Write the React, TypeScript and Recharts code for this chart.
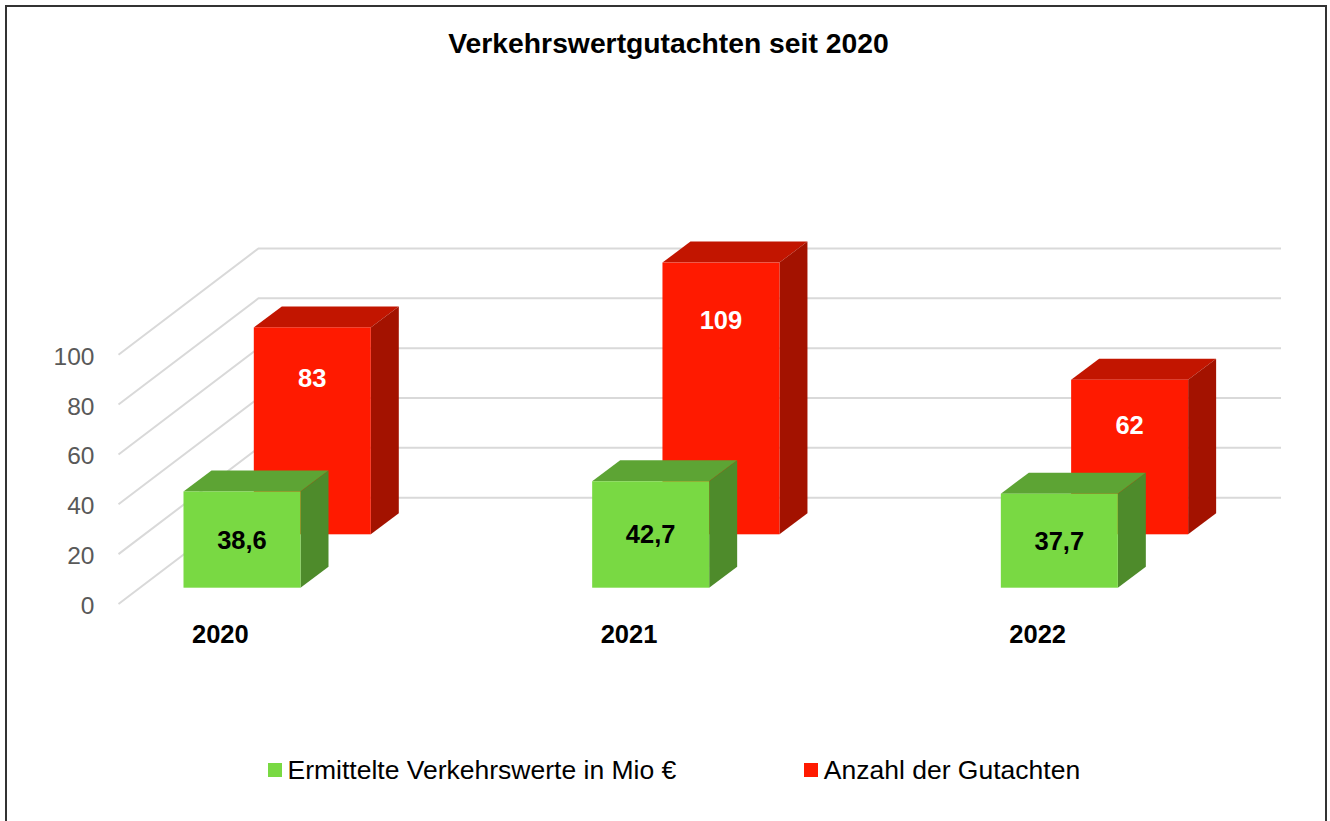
import React from "react";
import { BarChart, Bar, XAxis, YAxis, CartesianGrid, Legend } from "recharts";

const YEARS = ["2020", "2021", "2022"];
const WERTE_MIO = [38.6, 42.7, 37.7];
const ANZAHL_GUTACHTEN = [83, 109, 62];
const Y_TICKS = [0, 20, 40, 60, 80, 100];
const TITLE = "Verkehrswertgutachten seit 2020";
const SERIES_ORDER = ["werte", "anzahl"];
const SERIES_NAMES: Record<string, string> = {
  werte: "Ermittelte Verkehrswerte in Mio €",
  anzahl: "Anzahl der Gutachten",
};

const data = YEARS.map((year, i) => ({
  year,
  werte: WERTE_MIO[i],
  anzahl: ANZAHL_GUTACHTEN[i],
}));

// oblique 3d look of the excel chart
const WALL_LEFT = 118.5;
const WALL_DX = 140;
const WALL_DY = 106.3;
const WALL_RIGHT = 1281;
const BOX_DX = 28;
const BOX_DY = 21;
const FONT = "'Liberation Sans', Arial, sans-serif";

const GREEN = { dx: 21.5, dy: 16.3, front: "#79d943", top: "#5da434", side: "#4e8b2b", text: "#000", key: "werte" };
const RED = { dx: 91.8, dy: 69.7, front: "#ff1a00", top: "#c21500", side: "#a31200", text: "#fff", key: "anzahl" };

const fmt = (v: number) => String(v).replace(".", ",");

function makeBox(row: typeof GREEN, isBack: boolean) {
  return (props: any) => {
    const { x, y, width, height, payload } = props;
    const fx = x + row.dx;
    const fy = y - row.dy;
    const w = width;
    const h = height;
    const labelY = isBack ? fy + 30 + 0.1 * h : fy + h / 2;
    return (
      <g>
        <polygon
          points={`${fx},${fy} ${fx + w},${fy} ${fx + w + BOX_DX},${fy - BOX_DY} ${fx + BOX_DX},${fy - BOX_DY}`}
          fill={row.top}
        />
        <polygon
          points={`${fx + w},${fy} ${fx + w + BOX_DX},${fy - BOX_DY} ${fx + w + BOX_DX},${fy - BOX_DY + h} ${fx + w},${fy + h}`}
          fill={row.side}
        />
        <rect x={fx} y={fy} width={w} height={h} fill={row.front} />
        <text
          x={fx + w / 2}
          y={labelY}
          textAnchor="middle"
          dominantBaseline="central"
          fontFamily={FONT}
          fontWeight="bold"
          fontSize={25.5}
          fill={row.text}
        >
          {fmt(payload[row.key])}
        </text>
      </g>
    );
  };
}

const wallLine = (props: any) => {
  const y = props.y1;
  // the grid also hands over the top edge of the plot, which is not a tick
  if (Math.abs(y - props.y) < 0.5) return <g key={`wall-${props.index}`} />;
  return (
    <path
      key={`wall-${props.index}`}
      d={`M${WALL_LEFT},${y} L${WALL_LEFT + WALL_DX},${y - WALL_DY} L${WALL_RIGHT},${y - WALL_DY}`}
      fill="none"
      stroke="#d9d9d9"
      strokeWidth={2}
    />
  );
};

const YTick = (props: any) => (
  <text
    x={94.5}
    y={props.y + 1.5}
    textAnchor="end"
    dominantBaseline="central"
    fontFamily={FONT}
    fontSize={24.5}
    fill="#595959"
  >
    {props.payload.value}
  </text>
);

const XTick = (props: any) => (
  <text
    x={props.x}
    y={props.y + 39.3}
    textAnchor="middle"
    fontFamily={FONT}
    fontWeight="bold"
    fontSize={25.5}
    fill="#000"
  >
    {props.payload.value}
  </text>
);

const LegendContent = (props: any) => {
  const items = [...(props.payload || [])].sort(
    (a: any, b: any) => SERIES_ORDER.indexOf(a.dataKey) - SERIES_ORDER.indexOf(b.dataKey)
  );
  return (
    <div style={{ display: "flex", alignItems: "center", fontFamily: FONT, fontSize: 26.5, lineHeight: "30px", color: "#000" }}>
      {items.map((it: any, i: number) => (
        <div key={it.dataKey} style={{ display: "flex", alignItems: "center", marginLeft: i === 0 ? 0 : 128 }}>
          <span style={{ display: "inline-block", width: 13.5, height: 14, background: it.color, marginRight: 6 }} />
          <span>{it.value}</span>
        </div>
      ))}
    </div>
  );
};

export default function App() {
  return (
    <div style={{ position: "absolute", left: 0, top: 0, width: 1330, height: 821, overflow: "hidden", background: "#fff", fontFamily: FONT }}>
      <div
        style={{
          position: "absolute",
          left: 5,
          top: 5,
          width: 1318,
          height: 840,
          border: "2px solid #333",
        }}
      />
      <div
        style={{
          position: "absolute",
          left: 0,
          top: 26.6,
          width: 1337,
          textAlign: "center",
          fontSize: 28.3,
          lineHeight: "32px",
          fontWeight: "bold",
          color: "#000",
        }}
      >
        {TITLE}
      </div>
      <div style={{ position: "absolute", left: 0, top: 0 }}>
        <BarChart
          width={1330}
          height={821}
          data={data}
          margin={{ top: 255, right: 88, bottom: 187, left: 0 }}
          barSize={117}
          barGap={-117}
        >
          <CartesianGrid horizontal={wallLine} vertical={false} />
          <XAxis
            dataKey="year"
            axisLine={false}
            tickLine={false}
            tickSize={0}
            tickMargin={0}
            height={30}
            interval={0}
            tick={<XTick />}
          />
          <YAxis
            domain={[0, 140]}
            ticks={Y_TICKS}
            width={16}
            axisLine={false}
            tickLine={false}
            tick={<YTick />}
          />
          <Legend
            layout="horizontal"
            verticalAlign="middle"
            align="center"
            wrapperStyle={{ left: 268, top: 755, width: "auto", height: "auto" }}
            content={<LegendContent />}
          />
          <Bar
            dataKey="anzahl"
            name={SERIES_NAMES.anzahl}
            fill={RED.front}
            isAnimationActive={false}
            shape={makeBox(RED, true)}
          />
          <Bar
            dataKey="werte"
            name={SERIES_NAMES.werte}
            fill={GREEN.front}
            isAnimationActive={false}
            shape={makeBox(GREEN, false)}
          />
        </BarChart>
      </div>
    </div>
  );
}
